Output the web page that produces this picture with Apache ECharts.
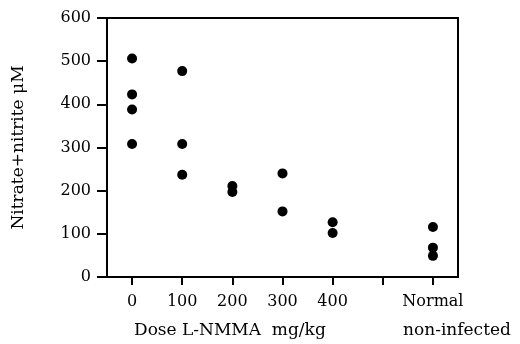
<!DOCTYPE html>
<html>
<head>
<meta charset="utf-8">
<script src="https://cdn.jsdelivr.net/npm/echarts@6/dist/echarts.min.js"></script>
<style>html,body{margin:0;padding:0;background:#fff;}#c{width:520px;height:344px;}</style>
</head>
<body>
<div id="c"></div>
<script>
const categories = ['0', '100', '200', '300', '400', '', 'Normal'];
const yTicks = [0, 100, 200, 300, 400, 500, 600];
const dose0 = [506, 423, 388, 308];
const dose100 = [477, 308, 237];
const dose200 = [211, 197];
const dose300 = [240, 152];
const dose400 = [127, 102];
const normal = [116, 68, 49];
const groups = [dose0, dose100, dose200, dose300, dose400, [], normal];

const points = [];
groups.forEach((vals, i) => vals.forEach(v => points.push([i, v])));

const FONT = 'DejaVu Serif';
const chart = echarts.init(document.getElementById('c'));
chart.setOption({
  animation: false,
  backgroundColor: '#fff',
  grid: { left: 107, right: 62, top: 18, bottom: 67, show: true, borderColor: '#000', borderWidth: 2, backgroundColor: 'transparent' },
  xAxis: {
    type: 'category',
    data: categories,
    boundaryGap: true,
    axisLine: { show: true, lineStyle: { color: '#000', width: 2 } },
    axisTick: { show: true, alignWithLabel: true, length: 8, interval: 0, lineStyle: { color: '#000', width: 2 } },
    axisLabel: { interval: 0, color: '#000', fontFamily: FONT, fontSize: 16, margin: 17 },
    splitLine: { show: false }
  },
  yAxis: {
    type: 'value',
    min: yTicks[0],
    max: yTicks[yTicks.length - 1],
    interval: 100,
    name: 'Nitrate+nitrite μM',
    nameLocation: 'middle',
    nameGap: 80,
    nameTextStyle: { color: '#000', fontFamily: FONT, fontSize: 17 },
    axisLine: { show: true, lineStyle: { color: '#000', width: 2 } },
    axisTick: { show: true, length: 10, lineStyle: { color: '#000', width: 2 } },
    axisLabel: { color: '#000', fontFamily: FONT, fontSize: 16, margin: 16 },
    splitLine: { show: false }
  },
  series: [{
    type: 'scatter',
    symbol: 'circle',
    symbolSize: 10,
    itemStyle: { color: '#000', opacity: 1 },
    data: points
  }],
  graphic: [
    { type: 'text', left: 134, top: 322, style: { text: 'Dose L-NMMA  mg/kg', fill: '#000', font: '17px "' + FONT + '"' } },
    { type: 'text', left: 403, top: 322, style: { text: 'non-infected', fill: '#000', font: '17px "' + FONT + '"' } }
  ]
});
</script>
</body>
</html>
